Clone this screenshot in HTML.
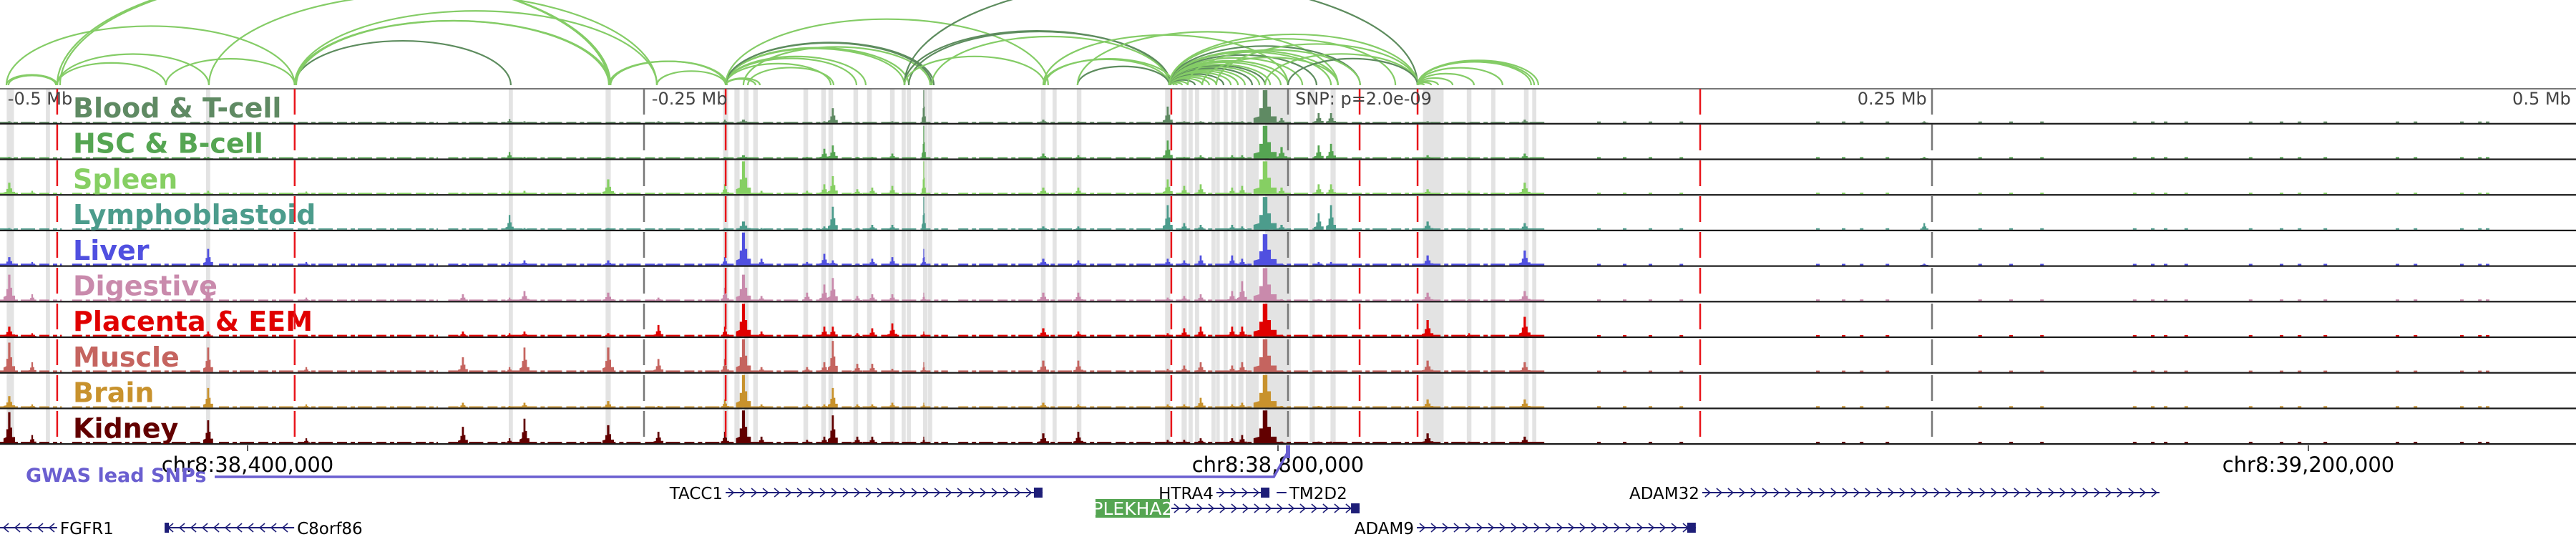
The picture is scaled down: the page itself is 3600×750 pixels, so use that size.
<!DOCTYPE html>
<html><head><meta charset="utf-8">
<style>
html,body{margin:0;padding:0;background:#fff;}
svg{display:block;}
text{font-family:"DejaVu Sans","Liberation Sans",sans-serif;}
</style></head>
<body>
<svg id="chart" width="3600" height="750" viewBox="0 0 3600 750" xmlns="http://www.w3.org/2000/svg">
<g id="bands"></g>
<g id="arcs"></g>
<g id="tracks"></g>
<g id="vlines"></g>
<g id="axis"></g>
<g id="ruler"></g>
<g id="gwas"></g>
<g id="genes"></g>
</svg>
<script>
// ---- data (kb relative to lead SNP) ----
const tissues = ["Blood & T-cell","HSC & B-cell","Spleen","Lymphoblastoid","Liver","Digestive","Placenta & EEM","Muscle","Brain","Kidney"];
const tissueColors = ["#5f8a63","#55a552","#86cf63","#4c9c8c","#5050e0","#c98aac","#e00000","#c5645f","#c8922d","#620000"];
const bgLevel = [0.035,0.04,0.04,0.04,0.05,0.04,0.05,0.05,0.04,0.045];
const peakPos = [-496.4,-487.5,-419.2,-381.1,-320.3,-302.2,-296.4,-263.9,-244.4,-218.6,-211.4,-204.4,-186.7,-180,-176.7,-167.2,-161.4,-153.6,-141.4,-95,-81.4,-46.7,-40.3,-33.9,-21.7,-17.8,-8.9,-2.5,11.9,16.7,54.2,70.3,91.9,247];
const peakWidth = [1.4,1.0,1.2,1.0,1.2,1.0,1.2,1.4,1.2,1.0,1.8,1.2,1.2,1.2,1.2,1.2,1.2,1.2,0.5,1.4,1.2,1.2,1.2,1.2,1.2,1.2,2.8,1.4,1.2,1.2,1.4,1.0,1.4,1.0];
const peakHeights = [
 [0.05,0,0.05,0,0,0.12,0.05,0,0.05,0.1,0.1,0,0,0.05,0.45,0,0,0.05,1.0,0.1,0.05,0.5,0.05,0.05,0.05,0.05,1,0.15,0.3,0.3,0.05,0.02,0.1,0.05],
 [0.05,0,0.05,0,0,0.2,0.05,0.05,0,0.05,0.1,0,0.05,0.3,0.4,0.05,0.05,0.15,1.0,0.15,0.1,0.55,0.05,0.1,0.1,0.1,1,0.35,0.4,0.45,0.1,0.05,0.15,0.05],
 [0.35,0.1,0.1,0.08,0.05,0.1,0.1,0.45,0,0.3,1.0,0.1,0.1,0.3,0.55,0.15,0.2,0.25,1.0,0.2,0.2,0.45,0.25,0.3,0.2,0.25,1,0.2,0.3,0.3,0.15,0.1,0.35,0],
 [0.05,0,0.05,0,0,0.45,0.05,0.05,0,0.05,0.25,0.05,0.05,0.1,0.7,0.05,0.15,0.15,1.0,0.1,0.1,0.75,0.2,0.15,0.15,0.1,1,0.15,0.5,0.75,0.25,0.05,0.2,0.2],
 [0.25,0.1,0.5,0.1,0.05,0.1,0.15,0.15,0.05,0.25,1.0,0.2,0.1,0.35,0.15,0.05,0.2,0.25,0.5,0.2,0.15,0.2,0.15,0.3,0.3,0.2,0.95,0.05,0.1,0.1,0.3,0.05,0.45,0.05],
 [0.8,0.2,0.4,0.1,0.2,0.1,0.3,0.25,0.1,0.4,0.8,0.15,0.25,0.5,0.7,0.15,0.2,0.2,0.25,0.25,0.25,0.1,0.15,0.2,0.3,0.6,1,0.05,0.05,0.05,0.25,0.05,0.3,0],
 [0.3,0.1,0.15,0.05,0.15,0.1,0.15,0.1,0.35,0.3,1.0,0.15,0.05,0.3,0.3,0.1,0.25,0.4,0.15,0.25,0.15,0.1,0.25,0.3,0.3,0.3,1,0.05,0.05,0.05,0.5,0.1,0.6,0],
 [0.9,0.3,0.75,0.15,0.45,0.15,0.75,0.75,0.4,0.4,1.0,0.15,0.15,0.3,0.95,0.25,0.25,0.1,0.3,0.35,0.35,0.1,0.2,0.3,0.2,0.3,1,0.05,0.05,0.05,0.35,0.05,0.3,0],
 [0.35,0.1,0.6,0.1,0.15,0.05,0.15,0.2,0.05,0.25,1.0,0.1,0.1,0.1,0.6,0.1,0.1,0.15,0.15,0.15,0.1,0.1,0.1,0.3,0.1,0.15,1,0.05,0.05,0.05,0.25,0.05,0.25,0],
 [0.95,0.25,0.7,0.15,0.5,0.15,0.75,0.55,0.35,0.35,1.0,0.2,0.1,0.2,0.85,0.2,0.2,0.05,0.2,0.3,0.35,0.1,0.1,0.15,0.15,0.25,1,0.05,0.05,0.05,0.3,0.05,0.2,0]
];
const bgRanges = [[-500,-476],[-472,-420],[-415,-330],[-326,-132],[-128,100]];
const sparseBg = [120,130,140,152,205,215,222,232,268,280,292,328,335,340,348,373,385,392,402,430,437,455,462,465];
const bandPos = [-496,-481.4,-419.2,-301.7,-263.9,-218.3,-213.9,-210.3,-206.7,-187.2,-180.3,-177.5,-167.8,-162.5,-153.6,-149.2,-147.2,-140.8,-138.9,-95,-90.6,-81.1,-46.7,-40.3,-37.8,-35.3,-28.9,-27.2,-24.2,-21.1,-18.3,-13.9,-3.9,9.4,17.5,56.4,70.3,79.7,92.5,95.6];
const bandWidth = [2.8,1.6,1.6,1.6,2,2,2,1.8,1.8,1.8,1.8,1.8,1.8,1.8,1.8,1.6,1.6,1.8,1.6,1.8,1.6,1.8,2,2,1.6,1.6,1.6,1.4,1.6,1.8,2,5,10,2,2,8,1.8,1.6,1.8,1.6];
const arcStart = [-497.5,-496.7,-477.8,-477.8,-497.5,-435.6,-385.6,-385.6,-385,-385.6,-477.8,-476.7,-418.9,-263.6,-263,-245,
 -218.3,-218.3,-218.3,-218.3,-218.3,-218.3,-218.3,-218.3,-218.3,-218.3,-211.4,-209.7,
 -148.9,-147.2,-138.3,-148.9,-148.9,-95,-81.7,-94.4,-81.7,-95,
 -46.1,-46.1,-46.1,-46.1,-46.1,-46.1,-46.1,-46.1,-46.1,-46.1,-46.1,-46.1,-46.1,-46.1,-46.1,-46.1,-46.1,-46.1,-46.1,-46.1,-46.1,-46.1,-46.1,-46.1,
 -38.9,-33.3,-27.8,-8.9,0,
 50.3,50.3,50.3,50.3,50.3,50.3,50.3,50.3,50.3];
const arcEnd = [-477.8,-478.3,-435.6,-418.9,-385.6,-385.6,-301.7,-263.6,-263,-245,-263.6,-263,-245,-218.3,-217.8,-218.3,
 -206.7,-205,-177.5,-167.5,-163.9,-148.9,-147.2,-138.3,-137.5,-93.1,-138.9,-176.4,
 -46.1,-45.6,-46.1,50.3,-94.4,-46.1,-46.1,-44.4,19.4,0,
 -43.1,-41.1,-38.9,-36.1,-33.3,-30.6,-27.8,-25,-22.2,-19.4,-16.7,-13.9,-11.1,-8.9,-6.9,-2.8,0,5.6,11.1,16.7,19.4,28,41.7,50.3,
 28,19.4,50.3,50.3,50.3,
 52.8,55.6,58.3,63.9,72.2,83.3,94.4,95.6,97.2];
const arcDark = [0,0,0,0,0,0,1,0,0,0,0,0,0,0,0,0, 0,0,0,0,0,0,0,1,1,0,0,0, 1,1,0,1,0,0,1,0,0,0,
 0,0,0,1,0,0,0,1,0,0,0,1,0,1,0,0,0,0,1,0,0,1,0,0, 0,0,0,0,1, 0,0,0,0,0,0,0,0,0];
const redLines = [-477.8,-385.6,-218.3,-45.3,27.8,50.3,160];
const grayLines = [-250,0,250];
const axisLabels = ["-0.5 Mb","-0.25 Mb","SNP: p=2.0e-09","0.25 Mb","0.5 Mb"];
const axisLabelPos = [-497,-247,2.8,248,498];
const rulerTicks = [-400,0,400];
const rulerLabels = ["chr8:38,400,000","chr8:38,800,000","chr8:39,200,000"];

// ---- scales ----
const X = kb => 1800 + kb*3.6;
const TOP = 124, TH = 49.7;
const NS = "http://www.w3.org/2000/svg";
function mk(tag, attrs, parent){const e=document.createElementNS(NS,tag);for(const k in attrs)e.setAttribute(k,attrs[k]);parent.appendChild(e);return e;}

// bands
const gB = document.getElementById('bands');
bandPos.forEach((p,i)=>{
  const r = mk('rect',{x:X(p)-bandWidth[i]*1.8,y:TOP,width:bandWidth[i]*3.6,height:TH*10,fill:'#e3e3e3'},gB);
  
  
});

// arcs
const gA = document.getElementById('arcs');
arcStart.forEach((s,i)=>{
  const x1=X(s), x2=X(arcEnd[i]); const rx=(x2-x1)/2, ry=rx*0.41;
  const p = mk('path',{d:`M${x1},119 A${rx},${ry} 0 0 1 ${x2},119`,fill:'none',stroke:arcDark[i]?'#5d8c5e':'#84cc66','stroke-width':2.2},gA);
  
  
});

// tracks
const gT = document.getElementById('tracks');
tissues.forEach((name,t)=>{
  const y0 = TOP + t*TH, base = y0 + TH - 2, maxH = TH - 4;
  const g = mk('g',{},gT);
  
  
  const col = tissueColors[t];
  const bh = bgLevel[t]*maxH;
  bgRanges.forEach(r=>{
    const bg = mk('line',{x1:X(r[0]),x2:X(r[1]),y1:base-bh/2,y2:base-bh/2,stroke:col,'stroke-width':bh,'stroke-dasharray':'14,5,6,4,20,6'},g);
    
    
  });
  sparseBg.forEach(p=>{
    const d = mk('rect',{x:X(p),y:base-2,width:5,height:2,fill:col},g);
    
    
  });
  peakPos.forEach((p,i)=>{
    const h = peakHeights[t][i]*maxH; if(h<=0) return;
    const cx = X(p), w = peakWidth[i]*3.6*1.6;
    const pts = [[cx-w,base],[cx-w,base-h*0.15],[cx-w*0.5,base-h*0.2],[cx-w*0.5,base-h*0.45],[cx-w*0.2,base-h*0.45],[cx-w*0.2,base-h],[cx+w*0.2,base-h],[cx+w*0.2,base-h*0.5],[cx+w*0.5,base-h*0.5],[cx+w*0.5,base-h*0.2],[cx+w,base-h*0.2],[cx+w,base]];
    const pk = mk('polygon',{points:pts.map(q=>q.join(',')).join(' '),fill:col},g);
    
    
  });
  const ln = mk('rect',{x:0,y:y0+TH-2,width:3600,height:2.2,fill:'#1a1a1a'},g);
  
  
  const lb = mk('text',{x:102,y:y0+40,'font-size':38,'font-weight':'bold',fill:col},g);
  lb.textContent = name;
  
  
});
const topLine = mk('rect',{x:0,y:TOP-1,width:3600,height:2,fill:'#777'},gT);



// vertical lines
const gV = document.getElementById('vlines');
grayLines.forEach(p=>{
  const l = mk('line',{x1:X(p),x2:X(p),y1:TOP,y2:TOP+TH*10,stroke:'#777','stroke-width':2.5,'stroke-dasharray':'36,14'},gV);
  
  
});
redLines.forEach(p=>{
  const l = mk('line',{x1:X(p),x2:X(p),y1:TOP,y2:TOP+TH*10,stroke:'#e8141a','stroke-width':2.5,'stroke-dasharray':'36,14'},gV);
  
  
});

// top axis labels
const gX = document.getElementById('axis');
axisLabels.forEach((s,i)=>{
  const anchor = i>=3 ? 'end':'start';
  const t = mk('text',{x:X(axisLabelPos[i]),y:146,'font-size':24,fill:'#444','text-anchor':anchor},gX);
  t.textContent = s;
  
  
});

// ruler
const gR = document.getElementById('ruler');
rulerTicks.forEach((p,i)=>{
  const x = X(p)-14;
  const tk = mk('line',{x1:x,x2:x,y1:622,y2:630,stroke:'#222','stroke-width':1.5},gR);
  
  
  const t = mk('text',{x:x,y:659,'font-size':29,fill:'#000','text-anchor':'middle'},gR);
  t.textContent = rulerLabels[i];
  
  
});

// GWAS
const gG = document.getElementById('gwas');
const gl = mk('path',{d:`M300,666 L${X(-5.5)},666 L${X(-0.5)},634`,fill:'none',stroke:'#6a5fd0','stroke-width':3.5},gG);


const gm = mk('rect',{x:X(0)-3,y:622,width:6,height:18,fill:'#6a5fd0'},gG);


const gt = mk('text',{x:36,y:673,'font-size':27,'font-weight':'bold',fill:'#6a5fd0'},gG);
gt.textContent = 'GWAS lead SNPs';



// genes
const geneNames = ["TACC1","HTRA4","TM2D2","ADAM32","PLEKHA2","FGFR1","C8orf86","ADAM9"];
const geneStart = [-218.3,-27.8,-4.4,160.8,-45.3,-520,-436.1,50];
const geneEnd = [-95.3,-7.2,-0.6,338.3,27.8,-477.8,-385.8,158.3];
const geneRow = [0,0,0,0,1,2,2,2];
const geneStrand = [1,1,-1,1,1,-1,-1,1];
const geneLabelSide = [-1,-1,1,-1,-1,1,1,-1];
const geneEndBlock = [1,1,0,0,1,0,1,1];
const rowY = [688,710,737];
const gN = document.getElementById('genes');
geneNames.forEach((nm,i)=>{
  const g = mk('g',{},gN);
  
  
  const x1=Math.max(0,X(geneStart[i])), x2=X(geneEnd[i]), y=rowY[geneRow[i]];
  mk('line',{x1:x1,x2:x2,y1:y,y2:y,stroke:'#1e1e78','stroke-width':2},g);
  let d='';
  for(let x=x1+8;x<x2-6;x+=16){
    if(geneStrand[i]>0) d+=`M${x-4},${y-6} L${x+3},${y} L${x-4},${y+6} `;
    else d+=`M${x+4},${y-6} L${x-3},${y} L${x+4},${y+6} `;
  }
  mk('path',{d:d,fill:'none',stroke:'#1e1e78','stroke-width':1.6},g);
  if(geneEndBlock[i]){
    const endX = geneStrand[i]>0 ? x2-12 : x1;
    mk('rect',{x:endX,y:y-7,width:geneStrand[i]>0?12:6,height:14,fill:'#1e1e78'},g);
  }
  if(nm==='PLEKHA2'){
    mk('rect',{x:x1-106,y:y-13,width:104,height:26,fill:'#55a552'},g);
    const t=mk('text',{x:x1-54,y:y+9,'font-size':25,fill:'#fff','text-anchor':'middle'},g);
    t.textContent=nm;
  } else {
    const lx = geneLabelSide[i]<0 ? x1-4 : x2+4;
    const t=mk('text',{x:lx,y:y+9,'font-size':23,fill:'#000','text-anchor':geneLabelSide[i]<0?'end':'start'},g);
    t.textContent=nm;
  }
});
</script>
</body></html>
